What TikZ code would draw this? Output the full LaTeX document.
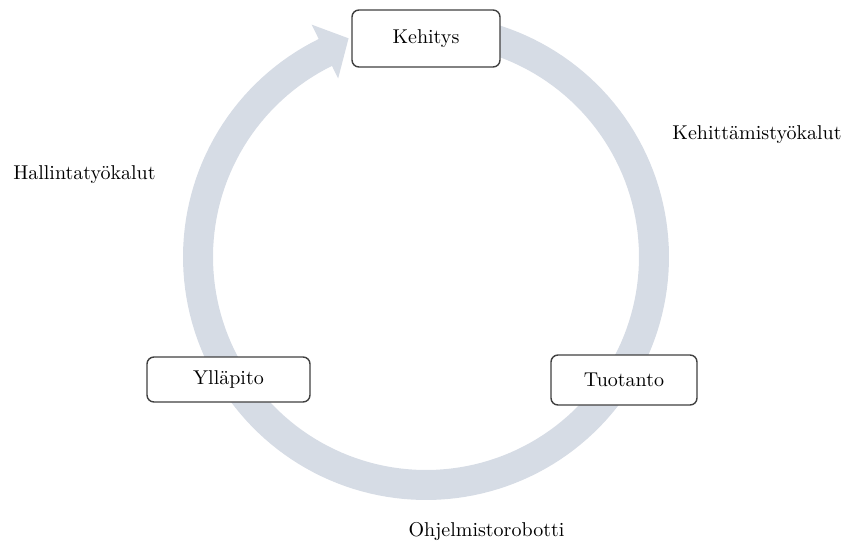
\documentclass[tikz,border=0pt]{standalone}
\usetikzlibrary{calc}
\definecolor{ringc}{RGB}{214,220,229}
\definecolor{boxc}{RGB}{64,64,64}
\begin{document}
\begin{tikzpicture}[x=0.5pt,y=-0.5pt,
  stagebox/.style={draw=boxc,line width=0.7pt,rounded corners=3.5pt,fill=white,inner sep=0pt,font=\normalsize},
  lbl/.style={inner sep=0pt,font=\normalsize}]
\useasboundingbox (0,0) rectangle (846,541);
% ring arrow
\fill[ringc]
  plot[domain=-80:243.8,samples=160] ({426+243*cos(\x)},{257+243*sin(\x)})
  -- ({426+259*cos(243.8)},{257+259*sin(243.8)})
  -- ({426+232*cos(250.5)},{257+232*sin(250.5)})
  -- ({426+199*cos(243.8)},{257+199*sin(243.8)})
  -- plot[domain=243.8:-80,samples=160] ({426+213*cos(\x)},{257+213*sin(\x)})
  -- cycle;
% stage boxes
\node[stagebox,minimum width=74pt,minimum height=28.5pt] (keh) at (426,38.5) {Kehitys};
\node[stagebox,minimum width=73pt,minimum height=25pt] (tuo) at (624,380) {Tuotanto};
\node[stagebox,minimum width=81.5pt,minimum height=22.5pt] (yll) at (228.5,379.5) {Ylläpito};
% labels
\node[lbl] (l1) at (757,135) {Kehittämistyökalut};
\node[lbl] (l2) at (84.5,175) {Hallintatyökalut};
\node[lbl] (l3) at (486.5,531) {Ohjelmistorobotti};
\end{tikzpicture}
\end{document}
